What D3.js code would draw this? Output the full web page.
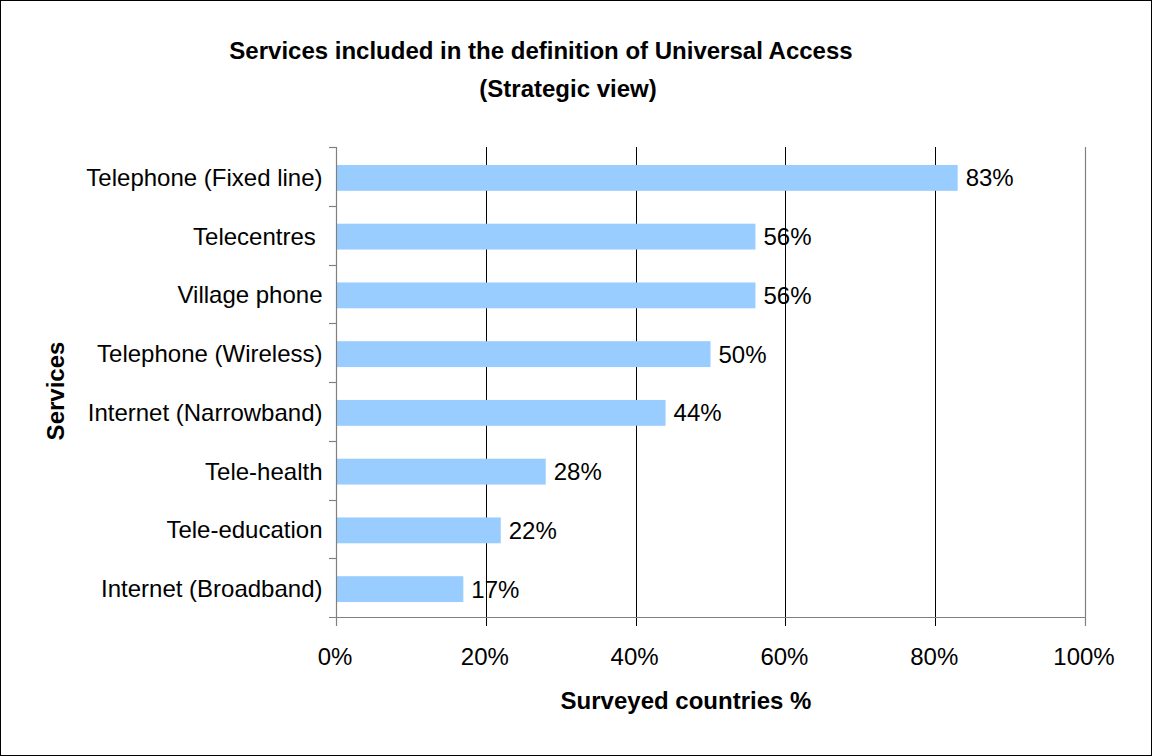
<!DOCTYPE html>
<html>
<head>
<meta charset="utf-8">
<script src="https://cdn.jsdelivr.net/npm/d3@7"></script>
<style>
  html, body { margin: 0; padding: 0; background: #fff; }
  svg { display: block; font-family: "Liberation Sans", Arial, sans-serif; }
  text { white-space: pre; }
</style>
</head>
<body>
<svg id="chart" width="1152" height="756"></svg>
<script>
// Services and share of surveyed countries including them (%)
const services = [
  "Telephone (Fixed line)",
  "Telecentres ",
  "Village phone",
  "Telephone (Wireless)",
  "Internet (Narrowband)",
  "Tele-health",
  "Tele-education",
  "Internet (Broadband)"
];
const shares = [83, 56, 56, 50, 44, 28, 22, 17];
const xTicks = [0, 20, 40, 60, 80, 100];
const titleLines = ["Services included in the definition of Universal Access", "(Strategic view)"];
const xTitle = "Surveyed countries %";
const yTitle = "Services";

const W = 1152, H = 756;
const plot = { left: 336, right: 1085, top: 147, bottom: 617 };
const fontSize = 24;

const svg = d3.select("#chart");

// outer frame
svg.append("rect")
  .attr("x", 0.5).attr("y", 0.5)
  .attr("width", W - 1).attr("height", H - 1)
  .attr("fill", "#fff").attr("stroke", "#000").attr("stroke-width", 1);

const x = d3.scaleLinear().domain([0, 100]).range([plot.left, plot.right]);
const y = d3.scaleBand().domain(services).range([plot.top, plot.bottom]).padding(0);
const step = y.step();
const barH = step * 0.44;

// vertical gridlines (black) with tick marks below the axis
svg.append("g")
  .selectAll("line")
  .data(xTicks.filter(t => t > 0 && t < 100))
  .join("line")
  .attr("x1", d => Math.round(x(d)) + 0.5).attr("x2", d => Math.round(x(d)) + 0.5)
  .attr("y1", plot.top).attr("y2", plot.bottom + 9)
  .attr("stroke", "#000").attr("stroke-width", 1);

// right edge of the plot (100%) in grey
svg.append("line")
  .attr("x1", Math.round(x(100)) + 0.5).attr("x2", Math.round(x(100)) + 0.5)
  .attr("y1", plot.top).attr("y2", plot.bottom + 9)
  .attr("stroke", "#808080").attr("stroke-width", 1.2);

// bars
svg.append("g")
  .selectAll("rect")
  .data(services.map((s, i) => ({ s, v: shares[i] })))
  .join("rect")
  .attr("x", x(0) + 1)
  .attr("y", d => y(d.s) + (step - barH) / 2 + 1.5)
  .attr("width", d => x(d.v) - x(0) - 1)
  .attr("height", barH)
  .attr("fill", "#99CCFF");

// value labels
svg.append("g")
  .selectAll("text")
  .data(services.map((s, i) => ({ s, v: shares[i] })))
  .join("text")
  .attr("x", d => x(d.v) + 8)
  .attr("y", d => y(d.s) + step / 2 + 1.5 + 8.5)
  .attr("font-size", fontSize)
  .attr("fill", "#000")
  .text(d => d.v + "%");

// x axis (bottom)
const xAxis = d3.axisBottom(x)
  .tickValues(xTicks)
  .tickFormat(d => d + "%")
  .tickSize(9)
  .tickSizeOuter(0)
  .tickPadding(0);
const gx = svg.append("g")
  .attr("transform", `translate(0,${plot.bottom + 0.5})`)
  .call(xAxis);
gx.select(".domain")
  .attr("d", `M${plot.left - 7},0H${plot.right}`)
  .attr("stroke", "#808080").attr("stroke-width", 1.2);
gx.selectAll(".tick line").attr("stroke", "none");
gx.selectAll(".tick text")
  .attr("font-size", fontSize)
  .attr("font-family", "Liberation Sans, Arial, sans-serif")
  .attr("fill", "#000")
  .attr("dy", null)
  .attr("y", 47)
  .attr("x", -1.5);

// y axis (left): ticks at category boundaries
const yAxis = d3.axisLeft(y).tickSize(0).tickPadding(14).tickSizeOuter(0);
const gy = svg.append("g")
  .attr("transform", `translate(${plot.left + 0.5},0)`)
  .call(yAxis);
gy.select(".domain")
  .attr("d", `M0,${plot.top}V${plot.bottom + 9}`)
  .attr("stroke", "#808080").attr("stroke-width", 1.2);
gy.selectAll(".tick text")
  .attr("font-size", fontSize)
  .attr("font-family", "Liberation Sans, Arial, sans-serif")
  .attr("fill", "#000")
  .attr("dy", null)
  .attr("y", 8 + 1.5);

// boundary tick marks between categories
const boundaries = services.map(s => y(s)).concat([plot.bottom]);
svg.append("g")
  .selectAll("line")
  .data(boundaries.slice(0, -1))
  .join("line")
  .attr("x1", plot.left - 7).attr("x2", plot.left)
  .attr("y1", d => Math.round(d) + 0.5).attr("y2", d => Math.round(d) + 0.5)
  .attr("stroke", "#808080").attr("stroke-width", 1.2);

// chart title
const centers = [541, 568];
const baselines = [59, 96.5];
svg.append("g")
  .selectAll("text")
  .data(titleLines)
  .join("text")
  .attr("x", (d, i) => centers[i])
  .attr("y", (d, i) => baselines[i])
  .attr("text-anchor", "middle")
  .attr("font-size", fontSize)
  .attr("font-weight", "bold")
  .text(d => d);

// axis titles
svg.append("text")
  .attr("x", 686).attr("y", 708.5)
  .attr("text-anchor", "middle")
  .attr("font-size", fontSize)
  .attr("font-weight", "bold")
  .text(xTitle);

svg.append("text")
  .attr("transform", "translate(63.5,391) rotate(-90)")
  .attr("text-anchor", "middle")
  .attr("font-size", fontSize)
  .attr("font-weight", "bold")
  .text(yTitle);
</script>
</body>
</html>
